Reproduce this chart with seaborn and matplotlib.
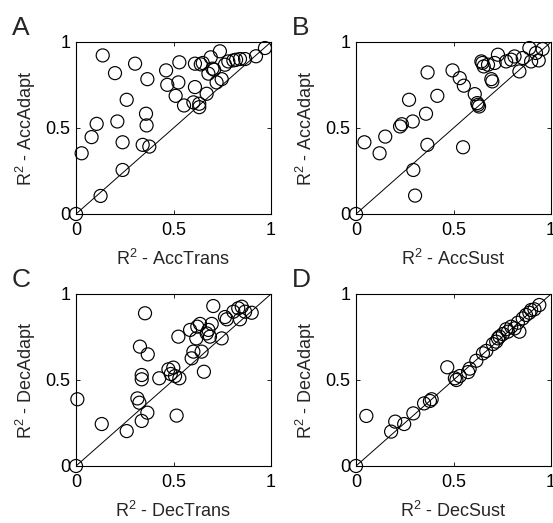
import matplotlib
matplotlib.use('Agg')
import matplotlib.pyplot as plt
import seaborn as sns

# Panel A: AccTrans vs AccAdapt
acc_trans = [0.0, 0.126, 0.239, 0.376, 0.342, 0.239, 0.029, 0.080, 0.106, 0.212,
             0.362, 0.359, 0.260, 0.137, 0.200, 0.303, 0.366, 0.462, 0.468, 0.530,
             0.525, 0.511, 0.554, 0.610, 0.602, 0.632, 0.632, 0.610, 0.650, 0.670,
             0.679, 0.691, 0.708, 0.721, 0.738, 0.747, 0.764, 0.781, 0.807, 0.821,
             0.841, 0.867, 0.923, 0.969, 0.700, 0.640]
acc_adapt_a = [0.0, 0.105, 0.256, 0.392, 0.402, 0.417, 0.353, 0.447, 0.524, 0.538,
               0.515, 0.583, 0.664, 0.922, 0.819, 0.874, 0.784, 0.835, 0.751, 0.882,
               0.765, 0.687, 0.631, 0.738, 0.649, 0.621, 0.641, 0.874, 0.878, 0.699,
               0.816, 0.911, 0.839, 0.765, 0.946, 0.784, 0.868, 0.887, 0.893, 0.897,
               0.901, 0.901, 0.917, 0.965, 0.845, 0.870]

# Panel B: AccSust vs AccAdapt
acc_sust = [0.0, 0.303, 0.294, 0.366, 0.549, 0.043, 0.121, 0.150, 0.226, 0.235,
            0.291, 0.359, 0.272, 0.417, 0.367, 0.495, 0.532, 0.553, 0.609, 0.626,
            0.631, 0.622, 0.648, 0.655, 0.694, 0.699, 0.711, 0.728, 0.770, 0.796,
            0.838, 0.855, 0.889, 0.898, 0.923, 0.957, 0.937, 0.643, 0.677, 0.813]
acc_adapt_b = [0.0, 0.107, 0.256, 0.402, 0.388, 0.417, 0.353, 0.450, 0.509, 0.522,
               0.538, 0.583, 0.664, 0.687, 0.823, 0.835, 0.790, 0.746, 0.697, 0.635,
               0.625, 0.645, 0.878, 0.858, 0.784, 0.771, 0.878, 0.926, 0.887, 0.897,
               0.829, 0.907, 0.965, 0.887, 0.936, 0.959, 0.893, 0.887, 0.868, 0.916]

# Panel C: DecTrans vs DecAdapt
dec_trans = [0.0, 0.007, 0.132, 0.260, 0.337, 0.366, 0.315, 0.325, 0.516, 0.337,
             0.337, 0.368, 0.328, 0.354, 0.427, 0.474, 0.486, 0.499, 0.508, 0.530,
             0.656, 0.525, 0.585, 0.593, 0.602, 0.622, 0.636, 0.644, 0.670, 0.687,
             0.696, 0.704, 0.747, 0.764, 0.773, 0.807, 0.832, 0.850, 0.867, 0.901,
             0.841, 0.617, 0.679]
dec_adapt_c = [0.0, 0.388, 0.244, 0.203, 0.262, 0.310, 0.393, 0.368, 0.293, 0.529,
               0.504, 0.649, 0.694, 0.888, 0.510, 0.562, 0.535, 0.572, 0.523, 0.510,
               0.548, 0.752, 0.791, 0.626, 0.665, 0.810, 0.826, 0.665, 0.771, 0.752,
               0.826, 0.930, 0.742, 0.866, 0.853, 0.897, 0.917, 0.926, 0.897, 0.891,
               0.853, 0.742, 0.791]

# Panel D: DecSust vs DecAdapt
dec_sust = [0.0, 0.053, 0.180, 0.201, 0.247, 0.294, 0.349, 0.388, 0.379, 0.468,
            0.507, 0.515, 0.532, 0.575, 0.583, 0.617, 0.651, 0.668, 0.702, 0.736,
            0.753, 0.770, 0.796, 0.813, 0.838, 0.830, 0.855, 0.872, 0.889, 0.915,
            0.940, 0.898, 0.779, 0.719, 0.728]
dec_adapt_d = [0.0, 0.291, 0.200, 0.258, 0.244, 0.306, 0.364, 0.388, 0.378, 0.574,
               0.510, 0.500, 0.523, 0.546, 0.566, 0.612, 0.655, 0.669, 0.709, 0.752,
               0.767, 0.795, 0.810, 0.800, 0.781, 0.833, 0.858, 0.878, 0.891, 0.911,
               0.936, 0.907, 0.781, 0.723, 0.742]

panels = [
    ('A', acc_trans, acc_adapt_a, 'AccTrans', 'AccAdapt'),
    ('B', acc_sust, acc_adapt_b, 'AccSust', 'AccAdapt'),
    ('C', dec_trans, dec_adapt_c, 'DecTrans', 'DecAdapt'),
    ('D', dec_sust, dec_adapt_d, 'DecSust', 'DecAdapt'),
]

sns.set_style('ticks')
plt.rcParams['font.family'] = ['Liberation Sans', 'DejaVu Sans']
plt.rcParams['mathtext.fontset'] = 'custom'
plt.rcParams['mathtext.rm'] = 'Liberation Sans'

W, H = 553, 523
fig = plt.figure(figsize=(W / 100, H / 100), dpi=100)

lefts = [76, 356]
tops = [42, 294]
aw, ah = 195, 172

for i, (letter, xs, ys, xname, yname) in enumerate(panels):
    left = lefts[i % 2]
    top = tops[i // 2]
    ax = fig.add_axes([left / W, 1 - (top + ah) / H, aw / W, ah / H])
    ax.plot([0, 1], [0, 1], color='black', lw=0.7, zorder=1)
    sns.scatterplot(x=xs, y=ys, ax=ax, marker='o', s=88, facecolor='none',
                    edgecolor='black', linewidth=0.85, clip_on=False, zorder=2)
    ax.set_xlim(0, 1)
    ax.set_ylim(0, 1)
    ax.set_xticks([0, 0.5, 1])
    ax.set_yticks([0, 0.5, 1])
    ax.set_xticklabels(['0', '0.5', '1'])
    ax.set_yticklabels(['0', '0.5', '1'])
    ax.tick_params(direction='in', length=3, width=0.6, top=True, right=True,
                   labelsize=13, pad=4, colors='black')
    ax.tick_params(axis='x', pad=6)
    for sp in ax.spines.values():
        sp.set_linewidth(0.8)
        sp.set_color('black')
    ax.set_xlabel('R$^2$ - ' + xname, fontsize=13, labelpad=7)
    ax.set_ylabel('R$^2$ - ' + yname, fontsize=13, labelpad=5)
    fig.text((left - 64) / W, 1 - (top - 7) / H, letter, fontsize=19,
             ha='left', va='baseline')

fig.savefig('out.png', dpi=100)
